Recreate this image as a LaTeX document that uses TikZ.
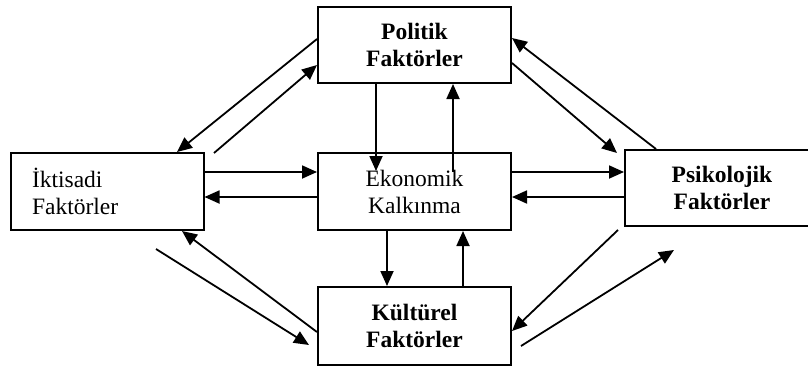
\documentclass[tikz,border=0pt]{standalone}
\usepackage{fontspec}
\setmainfont{Liberation Serif}
\usetikzlibrary{arrows.meta}
\usetikzlibrary{calc}

\begin{document}
\begin{tikzpicture}[x=1pt,y=-1pt,
  box/.style={draw,line width=2pt,minimum width=193pt,minimum height=77pt,
    inner sep=0pt,align=center,font=\fontsize{23.5}{27}\selectfont},
  boldbox/.style={box,font=\fontsize{23.5}{27}\selectfont\bfseries},
  arr/.style={line width=1.8pt,-{Triangle[length=15pt,width=13pt]}}]
\clip (0,0) rectangle (808,367);

\node[box,align=left,text width=150pt,inner xsep=21pt] (ikt) at (107,191.5) {İktisadi\\Faktörler};
\node[boldbox,minimum height=76pt] (pol) at (414.5,45) {Politik\\Faktörler};
\node[box] (eko) at (414.5,191.5) {Ekonomik\\Kalkınma};
\node[boldbox,minimum height=78pt] (kul) at (414.5,326) {Kültürel\\Faktörler};
\node[boldbox,minimum width=194pt,minimum height=76pt] (psi) at (722,188) {Psikolojik\\Faktörler};

% free ends
\coordinate (ekoin) at (376,171);
\coordinate (ekoout) at (453,172);
\coordinate (iktup) at (214,153);
\coordinate (psiup) at (617,153);
\coordinate (iktlow) at (156,249);
\coordinate (kullow) at (309,345);
\coordinate (psilow) at (618,230);
\coordinate (kulout) at (521,346);
\coordinate (psiin) at (674,250);

% middle row
\draw[arr] (ikt.east |- 0,172) -- (eko.west |- 0,172);
\draw[arr] (eko.west |- 0,197) -- (ikt.east |- 0,197);
\draw[arr] (eko.east |- 0,172) -- (psi.west |- 0,172);
\draw[arr] (psi.west |- 0,197) -- (eko.east |- 0,197);

% middle column
\draw[arr] (pol.south -| 376,0) -- (ekoin);
\draw[arr] (ekoout) -- (pol.south -| 453,0);
\draw[arr] (eko.south -| 387,0) -- (kul.north -| 387,0);
\draw[arr] (kul.north -| 463,0) -- (eko.south -| 463,0);

% diagonals
\draw[arr] (pol.west |- 0,39) -- (ikt.north -| 177,0);
\draw[arr] (iktup) -- (pol.west |- 0,65);
\draw[arr] (pol.east |- 0,63) -- (psiup);
\draw[arr] (psi.north -| 656,0) -- (pol.east |- 0,38);
\draw[arr] (kul.west |- 0,332) -- (ikt.south -| 182,0);
\draw[arr] (iktlow) -- (kullow);
\draw[arr] (psilow) -- (kul.east |- 0,331);
\draw[arr] (kulout) -- (psiin);

\end{tikzpicture}
\end{document}
